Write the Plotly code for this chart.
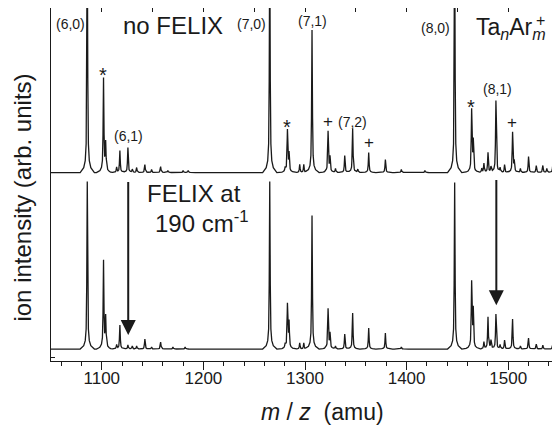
import numpy as np
import plotly.graph_objects as go

# ---- data ----
# peak positions (m/z, amu) and heights (arb. units) for the two spectra
upper_pos = [1085.7, 1101.7, 1103.8, 1114.6, 1117.8, 1125.7, 1130.0, 1134.3, 1142.4, 1149.0,
             1157.9, 1165.0, 1180.0, 1185.0, 1265.3, 1280.5, 1282.7, 1284.3, 1294.8, 1298.8,
             1306.9, 1322.7, 1324.6, 1330.0, 1339.1, 1346.9, 1352.0, 1362.7, 1379.1, 1394.8,
             1418.0, 1447.3, 1464.0, 1465.6, 1474.0, 1476.1, 1480.1, 1483.0, 1487.9, 1492.0,
             1496.4, 1504.3, 1505.9, 1512.0, 1520.0, 1527.6, 1534.1, 1538.0, 1543.9]
upper_h = [240, 94, 28, 5, 22, 25, 3, 5, 8, 3,
           6, 2, 2, 2, 240, 4, 42, 18, 8, 8,
           143, 41, 15, 4, 17, 44, 3, 20, 13, 3,
           2, 240, 62, 30, 4, 9, 20, 5, 72, 4,
           8, 40, 10, 4, 16, 7, 7, 4, 8]

lower_pos = [1085.7, 1101.7, 1103.8, 1114.6, 1117.8, 1125.7, 1130.0, 1134.3, 1142.4, 1149.0,
             1157.9, 1170.0, 1182.0, 1265.3, 1280.5, 1282.7, 1284.3, 1294.8, 1298.8, 1306.9,
             1322.7, 1324.6, 1330.0, 1339.1, 1346.9, 1362.7, 1379.1, 1394.8, 1447.3, 1464.0,
             1465.6, 1476.1, 1480.1, 1483.0, 1487.9, 1492.0, 1496.4, 1504.3, 1512.0, 1520.0,
             1527.6, 1534.1, 1543.9]
lower_h = [168, 88, 31, 4, 24, 4, 3, 3, 10, 2,
           7, 2, 2, 168, 4, 44, 26, 6, 6, 134,
           40, 15, 3, 15, 36, 21, 16, 2, 167, 66,
           38, 7, 32, 8, 35, 4, 9, 30, 3, 11,
           5, 4, 5]

upper_base = 189
lower_base = 12

x_range = [1050, 1549]
y_range = [0, 354]

x_title = "<i>m</i> / <i>z</i> &nbsp;(amu)"
y_title = "ion intensity (arb. units)"

# peak line-shape (rendering style)
prof_dx = np.array([-7, -3.5, -2.0, -1.1, -0.55, 0, 0.55, 1.1, 2.0, 3.5, 7])
prof_fr = np.array([0, 0.02, 0.05, 0.12, 0.38, 1, 0.38, 0.12, 0.05, 0.02, 0])


def spectrum(pos, h, base):
    xs = set(x_range)
    for p in pos:
        for d in prof_dx:
            xs.add(round(p + d, 3))
    xs = np.array(sorted(xs))
    ys = np.full(xs.shape, float(base))
    for p, hh in zip(pos, h):
        ys += hh * np.interp(xs - p, prof_dx, prof_fr, left=0, right=0)
    return xs, ys


ux, uy = spectrum(upper_pos, upper_h, upper_base)
lx, ly = spectrum(lower_pos, lower_h, lower_base)

FONT = "Liberation Sans, Arial, sans-serif"
INK = "#1a1a1a"

fig = go.Figure()
fig.add_trace(go.Scatter(x=ux, y=uy, mode="lines", line=dict(color=INK, width=1.3),
                         showlegend=False, hoverinfo="skip"))
fig.add_trace(go.Scatter(x=lx, y=ly, mode="lines", line=dict(color=INK, width=1.3),
                         showlegend=False, hoverinfo="skip"))
# invisible trace to activate the top axis
fig.add_trace(go.Scatter(x=x_range, y=[-10, -10], xaxis="x2", mode="lines",
                         line=dict(width=0), showlegend=False, hoverinfo="skip"))

# ---- annotations ----
labels = [
    ("(6,0)", 1068.7, 338, 14),
    ("no FELIX", 1170.0, 336, 24),
    ("(7,0)", 1247.6, 338, 14),
    ("(7,1)", 1307.3, 341, 14),
    ("(8,0)", 1428.6, 334, 14),
    ("*", 1101.4, 287, 20),
    ("(6,1)", 1126.0, 226, 14),
    ("*", 1281.8, 235, 20),
    ("+", 1322.7, 240, 17),
    ("(7,2)", 1346.7, 240, 14),
    ("+", 1362.7, 219, 17),
    ("*", 1463.0, 255, 20),
    ("(8,1)", 1489.8, 273, 14),
    ("+", 1504.0, 239, 17),
    ("FELIX at", 1190.3, 168, 24),
    ("190 cm<sup>-1</sup>", 1198.5, 139, 24),
]
for txt, x, y, s in labels:
    fig.add_annotation(x=x, y=y, xref="x", yref="y", text=txt, showarrow=False,
                       xanchor="center", yanchor="middle",
                       font=dict(family=FONT, size=s, color=INK))

fig.add_annotation(x=1466.5, y=333, xref="x", yref="y",
                   text="Ta<sub><i>n</i></sub>Ar<sub><i>m</i></sub>", showarrow=False,
                   xanchor="left", yanchor="middle", font=dict(family=FONT, size=23, color=INK))
fig.add_annotation(x=1531.5, y=341, xref="x", yref="y", text="+", showarrow=False,
                   xanchor="center", yanchor="middle", font=dict(family=FONT, size=16, color=INK))

# arrows
arrows = [(1126.0, 26, 181), (1488.3, 56, 183)]
for x, ytip, ytail in arrows:
    fig.add_annotation(x=x, y=ytip, ax=x, ay=ytail, xref="x", yref="y", axref="x", ayref="y",
                       text="", showarrow=True, arrowhead=2, arrowsize=1.5, arrowwidth=2,
                       arrowcolor=INK)

# axis titles
fig.add_annotation(x=0.536, y=0, xref="paper", yref="paper", yshift=-51, text=x_title,
                   showarrow=False, xanchor="center", yanchor="middle",
                   font=dict(family=FONT, size=23, color=INK))
fig.add_annotation(x=0, y=0.463, xref="paper", yref="paper", xshift=-28, text=y_title,
                   textangle=-90, showarrow=False, xanchor="center", yanchor="middle",
                   font=dict(family=FONT, size=24, color=INK))

# the page adds an 8 px body margin, so the figure is sized to the remaining viewport
fig.update_layout(
    width=552, height=420,
    margin=dict(l=43, r=2, t=0, b=67, autoexpand=False),
    paper_bgcolor="white", plot_bgcolor="white",
    font=dict(family=FONT, color=INK),
    xaxis=dict(range=x_range, showline=True, linecolor=INK, linewidth=1.3, mirror=True,
               automargin=False,
               ticks="outside", ticklen=8, tickwidth=1.3, tickcolor=INK, dtick=100,
               ticklabelstandoff=-7,
               minor=dict(dtick=20, ticks="outside", ticklen=4, tickwidth=1.1, tickcolor=INK),
               showgrid=False, zeroline=False, tickfont=dict(size=17, family=FONT, color=INK)),
    xaxis2=dict(range=x_range, overlaying="x", side="top", showline=False, ticks="inside",
                ticklen=4, tickwidth=1.1, tickcolor=INK, dtick=50, tick0=1050, automargin=False,
                showticklabels=False, showgrid=False, zeroline=False),
    yaxis=dict(range=y_range, showline=True, linecolor=INK, linewidth=1.3, mirror=True,
               automargin=False,
               ticks="inside", ticklen=4, tickwidth=1.1, tickcolor=INK,
               tickvals=[4, 189], showticklabels=False, showgrid=False, zeroline=False),
)

fig.write_html("out.html")
